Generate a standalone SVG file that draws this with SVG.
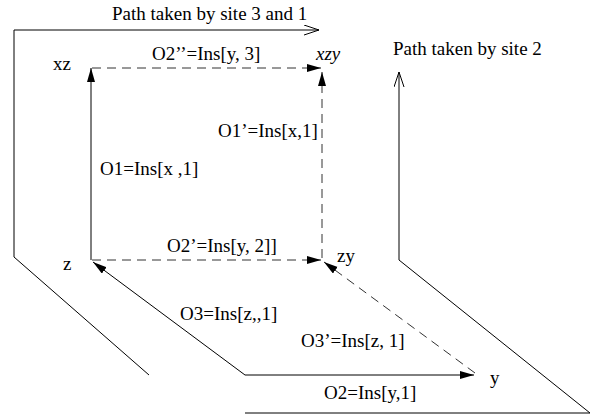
<svg xmlns="http://www.w3.org/2000/svg" width="595" height="419" viewBox="0 0 595 419">
<style>
text{font-family:"Liberation Serif","Times New Roman",serif;font-size:19px;fill:#000}
.s{fill:none;stroke:#000;stroke-width:1}
.d{fill:none;stroke:#333;stroke-width:1;stroke-dasharray:9 6}
.it{font-style:italic}
</style>
<defs>
<marker id="fa" markerUnits="userSpaceOnUse" markerWidth="16" markerHeight="10" refX="14" refY="4" orient="auto">
<path d="M0,0 L14,4 L0,8 z" fill="#000"/>
</marker>
<marker id="oa" markerUnits="userSpaceOnUse" markerWidth="16" markerHeight="12" refX="15" refY="5" orient="auto">
<path d="M0,0 L15,5 L0,10" fill="none" stroke="#000" stroke-width="1"/>
</marker>
</defs>
<rect width="595" height="419" fill="#fff"/>
<g id="connectors">
<polyline class="s" points="149,375 14,257 14,30 319,30" marker-end="url(#oa)"/>
<polyline class="s" points="245,413 590,413 399,260 399,72" marker-end="url(#oa)"/>
<line class="s" x1="91" y1="260" x2="91" y2="68" marker-end="url(#fa)"/>
<line class="d" x1="92" y1="68" x2="321" y2="68" marker-end="url(#fa)"/>
<line class="d" x1="322" y1="258" x2="322" y2="72" marker-end="url(#fa)"/>
<line class="d" x1="92" y1="260" x2="321" y2="260" marker-end="url(#fa)"/>
<polyline class="s" points="245,375 93,262" marker-end="url(#fa)"/>
<line class="s" x1="245" y1="375" x2="474" y2="375" marker-end="url(#fa)"/>
<line class="d" x1="475" y1="373" x2="324" y2="262" marker-end="url(#fa)"/>
</g>
<g id="path31"><text x="112" y="20">Path taken by site 3 and 1</text></g>
<g id="path2"><text x="393" y="55">Path taken by site 2</text></g>
<g id="xz"><text x="53" y="70">xz</text></g>
<g id="xzy"><text class="it" x="316" y="60">xzy</text></g>
<g id="z"><text x="63" y="270">z</text></g>
<g id="zy"><text x="337" y="262">zy</text></g>
<g id="y"><text x="490" y="384">y</text></g>
<g id="lbl-o2pp"><text x="152" y="60">O2’’=Ins[y, 3]</text></g>
<g id="lbl-o1p"><text x="218" y="137">O1’=Ins[x,1]</text></g>
<g id="lbl-o1"><text x="100" y="175">O1=Ins[x ,1]</text></g>
<g id="lbl-o2p"><text x="167" y="252">O2’=Ins[y, 2]]</text></g>
<g id="lbl-o3"><text x="180" y="320">O3=Ins[z,,1]</text></g>
<g id="lbl-o3p"><text x="301" y="347">O3’=Ins[z, 1]</text></g>
<g id="lbl-o2"><text x="324" y="399">O2=Ins[y,1]</text></g>
</svg>
